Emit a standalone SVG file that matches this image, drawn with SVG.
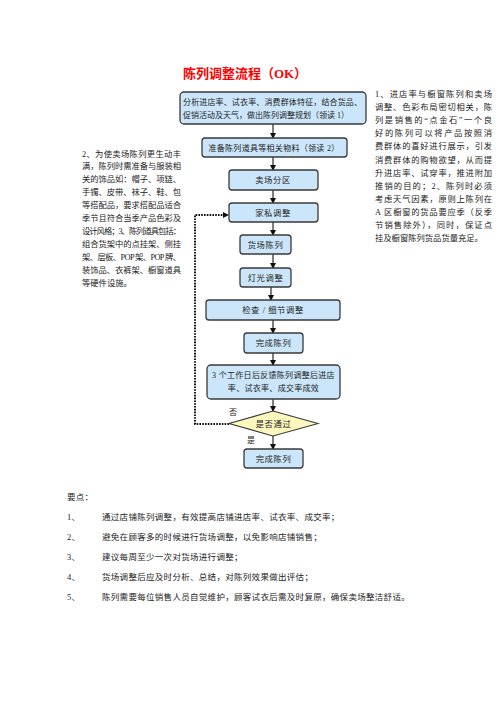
<svg xmlns="http://www.w3.org/2000/svg" width="496" height="702" viewBox="0 0 496 702">
<style>
text{font-family:"Liberation Serif","Noto Sans CJK SC",serif;fill:#222;}
.t{font-size:8.3px;}
.b{font-size:8px;}
.c{font-size:8.3px;text-anchor:middle;letter-spacing:0.6px;}
.c2{font-size:8px;text-anchor:middle;letter-spacing:0.3px;}
.box{fill:#cbe6fa;stroke:#3a3a3a;stroke-width:1.3;}
.dia{fill:#fdf6bd;stroke:#3a3a3a;stroke-width:1.1;}
.ln{stroke:#111;stroke-width:1.1;fill:none;}
.dot{stroke:#111;stroke-width:2;fill:none;stroke-dasharray:1.6 1.2;}
.k{font-size:8.5px;letter-spacing:0.3px;}
</style>
<defs>
<marker id="ah" markerWidth="6" markerHeight="6" refX="5" refY="3" orient="auto" markerUnits="userSpaceOnUse">
<path d="M0,0 L6,3 L0,6 Z" fill="#111"/>
</marker>
</defs>
<rect width="496" height="702" fill="#fff"/>
<text x="245" y="78" text-anchor="middle" style="font-size:13px;font-weight:bold;fill:#f00;">陈列调整流程（OK）</text>

<g id="connectors">
<line class="ln" x1="273" y1="124" x2="273" y2="138" marker-end="url(#ah)"/>
<line class="ln" x1="273" y1="157" x2="273" y2="170" marker-end="url(#ah)"/>
<line class="ln" x1="273" y1="190" x2="273" y2="203" marker-end="url(#ah)"/>
<line class="ln" x1="273" y1="222" x2="273" y2="235" marker-end="url(#ah)"/>
<line class="ln" x1="273" y1="254" x2="273" y2="268" marker-end="url(#ah)"/>
<line class="ln" x1="271" y1="287" x2="271" y2="300" marker-end="url(#ah)"/>
<line class="ln" x1="273" y1="320" x2="273" y2="333" marker-end="url(#ah)"/>
<line class="ln" x1="273" y1="353" x2="273" y2="365" marker-end="url(#ah)"/>
<line class="ln" x1="273" y1="399" x2="273" y2="411" marker-end="url(#ah)"/>
<line class="ln" x1="273" y1="436" x2="273" y2="449" marker-end="url(#ah)"/>
<path class="dot" d="M229,424 H195 V215 H223"/>
<path d="M223,212 L229,215 L223,218 Z" fill="#111"/>
<text class="b" x="229" y="415">否</text>
<text class="b" x="247" y="443">是</text>
</g>

<g id="n1">
<rect class="box" x="180" y="92" width="186" height="32" rx="4"/>
<text class="b" x="183" y="105" textLength="179">分析进店率、试衣率、消费群体特征，结合货品、</text>
<text class="b" x="183" y="118">促销活动及天气，做出陈列调整规划（领读 1）</text>
</g>
<g id="n2">
<rect class="box" x="202" y="138" width="145" height="19" rx="3"/>
<text class="c2" x="274" y="150.5">准备陈列道具等相关物料（领读 2）</text>
</g>
<g id="n3">
<rect class="box" x="229" y="170" width="89" height="20" rx="3"/>
<text class="c" x="273" y="183">卖场分区</text>
</g>
<g id="n4">
<rect class="box" x="229" y="203" width="89" height="19" rx="3"/>
<text class="c" x="273" y="215.5">家私调整</text>
</g>
<g id="n5">
<rect class="box" x="240" y="235" width="51" height="19" rx="3"/>
<text class="c" x="265.5" y="247.5">货场陈列</text>
</g>
<g id="n6">
<rect class="box" x="240" y="268" width="51" height="19" rx="3"/>
<text class="c" x="265.5" y="280.5">灯光调整</text>
</g>
<g id="n7">
<rect class="box" x="206" y="300" width="134" height="20" rx="3"/>
<text class="c" x="273" y="313">检查 / 细节调整</text>
</g>
<g id="n8">
<rect class="box" x="244" y="333" width="59" height="20" rx="3"/>
<text class="c" x="273.5" y="346">完成陈列</text>
</g>
<g id="n9">
<rect class="box" x="207" y="365" width="133" height="34" rx="4"/>
<text class="c2" x="273.5" y="378">3 个工作日后反馈陈列调整后进店</text>
<text class="c2" x="273.5" y="391">率、试衣率、成交率成效</text>
</g>
<g id="n10">
<path class="dia" d="M273,411 L318,423.5 L273,436 L229,423.5 Z"/>
<text class="c" x="273.5" y="427">是否通过</text>
</g>
<g id="n11">
<rect class="box" x="244" y="449" width="59" height="19" rx="3"/>
<text class="c" x="273.5" y="461.5">完成陈列</text>
</g>

<g id="left-note">
<text class="t" x="82" y="156.5" textLength="99">2、为使卖场陈列更生动丰</text>
<text class="t" x="82" y="169.4" textLength="99">满，陈列时需准备与服装相</text>
<text class="t" x="82" y="182.3" textLength="99">关的饰品如：帽子、项链、</text>
<text class="t" x="82" y="195.2" textLength="99">手镯、皮带、袜子、鞋、包</text>
<text class="t" x="82" y="208.1" textLength="99">等搭配品，要求搭配品适合</text>
<text class="t" x="82" y="221" textLength="99">季节且符合当季产品色彩及</text>
<text class="t" x="82" y="233.9" textLength="99">设计风格；3、陈列道具包括：</text>
<text class="t" x="82" y="246.8" textLength="99">组合货架中的点挂架、侧挂</text>
<text class="t" x="82" y="259.7" textLength="99">架、层板、POP 架、POP 牌、</text>
<text class="t" x="82" y="272.6" textLength="99">装饰品、衣裤架、橱窗道具</text>
<text class="t" x="82" y="285.5">等硬件设施。</text>
</g>

<g id="right-note">
<text class="t" x="375" y="97" textLength="117">1、进店率与橱窗陈列和卖场</text>
<text class="t" x="375" y="110.1" textLength="117">调整、色彩布局密切相关，陈</text>
<text class="t" x="375" y="123.2" textLength="117">列是销售的“点金石”一个良</text>
<text class="t" x="375" y="136.3" textLength="117">好的陈列可以将产品按照消</text>
<text class="t" x="375" y="149.4" textLength="117">费群体的喜好进行展示，引发</text>
<text class="t" x="375" y="162.5" textLength="117">消费群体的购物欲望，从而提</text>
<text class="t" x="375" y="175.6" textLength="117">升进店率、试穿率，推进附加</text>
<text class="t" x="375" y="188.7" textLength="117">推销的目的；2、陈列时必须</text>
<text class="t" x="375" y="201.8" textLength="117">考虑天气因素，原则上陈列在</text>
<text class="t" x="375" y="214.9" textLength="117">A 区橱窗的货品要应季（反季</text>
<text class="t" x="375" y="228" textLength="117">节销售除外），同时，保证点</text>
<text class="t" x="375" y="241.1">挂及橱窗陈列货品货量充足。</text>
</g>

<g id="points">
<text class="k" x="67" y="500">要点：</text>
<text class="k" x="67" y="520">1、</text>
<text class="k" x="102" y="520">通过店铺陈列调整，有效提高店铺进店率、试衣率、成交率；</text>
<text class="k" x="67" y="540">2、</text>
<text class="k" x="102" y="540">避免在顾客多的时候进行货场调整，以免影响店铺销售；</text>
<text class="k" x="67" y="560">3、</text>
<text class="k" x="102" y="560">建议每周至少一次对货场进行调整；</text>
<text class="k" x="67" y="580">4、</text>
<text class="k" x="102" y="580">货场调整后应及时分析、总结，对陈列效果做出评估；</text>
<text class="k" x="67" y="600">5、</text>
<text class="k" x="102" y="600">陈列需要每位销售人员自觉维护，顾客试衣后需及时复原，确保卖场整洁舒适。</text>
</g>
</svg>
